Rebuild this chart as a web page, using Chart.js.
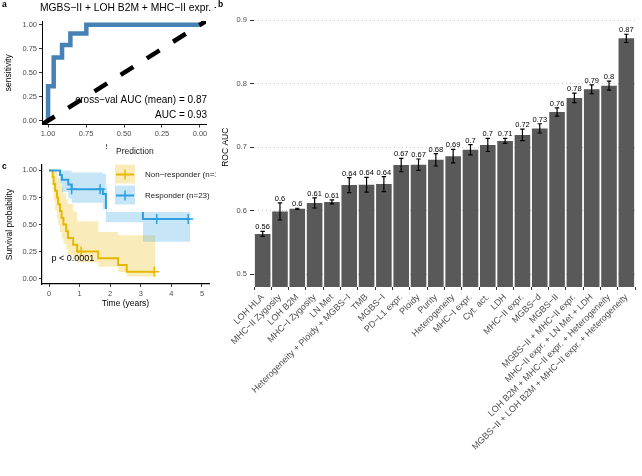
<!DOCTYPE html>
<html>
<head>
<meta charset="utf-8">
<script src="https://cdn.jsdelivr.net/npm/chart.js@4.4.1/dist/chart.umd.min.js"></script>
<style>
  body { margin: 0; background: #fff; overflow: hidden; }
  #wrap { position: relative; width: 642px; height: 476px; }
  canvas { position: absolute; }
  #roc { left: 0; top: 0; }
  #km { left: 0; top: 140px; }
  #auc { left: 216px; top: 0; background: #fff; }
</style>
</head>
<body>
<div id="wrap">
  <canvas id="roc" width="220" height="160"></canvas>
  <canvas id="km" width="220" height="180"></canvas>
  <canvas id="auc" width="426" height="476"></canvas>
</div>
<script>
// ---- panel a: ROC curve of the best combined model
const rocTitle = "MGBS−II + LOH B2M + MHC−II expr. + Heterogeneity";
const rocSpec = [1, 0.963, 0.908, 0.853, 0.748, 0];
const rocSens = [0, 0.36, 0.66, 0.79, 0.91, 1];
const chanceSpec = [1.04, -0.04];
const chanceSens = [-0.04, 1.04];
const rocTicks = [0, 0.25, 0.5, 0.75, 1];
const rocNotes = ["cross−val AUC (mean) = 0.87", "AUC = 0.93"];

// ---- panel b: cross-validated ROC AUC per model
const models = [
  "LOH HLA", "MHC−II Zygosity", "LOH B2M", "MHC−I Zygosity", "LN Met",
  "Heterogeneity + Ploidy + MGBS−I", "TMB", "MGBS−I", "PD−L1 expr.", "Ploidy",
  "Purity", "Heterogeneity", "MHC−I expr.", "Cyt. act.", "LDH", "MHC−II expr.",
  "MGBS−d", "MGBS−II", "MGBS−II + MHC−II expr.", "MHC−II expr. + LN Met + LDH",
  "LOH B2M + MHC−II expr. + Heterogeneity",
  "MGBS−II + LOH B2M + MHC−II expr. + Heterogeneity"
];
const aucMean = [0.5636, 0.599, 0.603, 0.6124, 0.614, 0.6404, 0.641, 0.642, 0.672, 0.6725,
  0.6803, 0.686, 0.696, 0.7037, 0.710, 0.7194, 0.7297, 0.7555, 0.7776, 0.7912, 0.797, 0.8714];
const aucErr = [0.004, 0.0135, 0.001, 0.008, 0.003, 0.0117, 0.0117, 0.0117, 0.0106, 0.009,
  0.0098, 0.0106, 0.008, 0.0104, 0.004, 0.009, 0.0073, 0.0065, 0.0075, 0.007, 0.007, 0.0065];
const aucTicks = [0.5, 0.6, 0.7, 0.8, 0.9];

// ---- panel c: Kaplan-Meier by predicted group
const groups = ["Non−responder (n=16)", "Responder (n=23)"];
const nrTime = [0, 0.12, 0.15, 0.20, 0.26, 0.30, 0.36, 0.41, 0.47, 0.56, 0.62, 0.79, 0.92, 1.61, 2.26, 2.54, 3.47];
const nrSurv = [1, 0.9375, 0.875, 0.8125, 0.75, 0.6875, 0.625, 0.5625, 0.5, 0.4375, 0.375, 0.3125, 0.25, 0.1875, 0.125, 0.0625, 0.0625];
const nrUpper = [1, 1, 1, 1, 0.97, 0.93, 0.88, 0.84, 0.79, 0.73, 0.69, 0.62, 0.53, 0.43, 0.40, 0.40, 0.40];
const nrLower = [1, 0.82, 0.72, 0.63, 0.56, 0.49, 0.43, 0.37, 0.32, 0.27, 0.22, 0.18, 0.15, 0.11, 0.06, 0.02, 0.02];
const nrCensorTime = [1.05, 3.44];
const nrCensorSurv = [0.25, 0.0625];
const rTime = [0, 0.36, 0.42, 0.63, 0.74, 1.76, 1.86, 3.07, 4.62];
const rSurv = [1, 0.957, 0.913, 0.870, 0.826, 0.783, 0.652, 0.55, 0.55];
const rUpper = [1, 1, 1, 1, 0.98, 0.97, 0.85, 0.80, 0.80];
const rLower = [1, 0.88, 0.80, 0.74, 0.70, 0.64, 0.52, 0.34, 0.34];
const rCensorTime = [0.74, 1.67, 3.52, 4.55];
const rCensorSurv = [0.826, 0.826, 0.55, 0.55];
const survTicks = [0, 0.25, 0.5, 0.75, 1];
const timeTicks = [0, 1, 2, 3, 4, 5];
const pText = "p < 0.0001";

const FONT = "'Liberation Sans', Arial, sans-serif";
Chart.defaults.font.family = FONT;
Chart.defaults.color = "#4d4d4d";
Chart.defaults.animation = false;
Chart.defaults.events = [];
Chart.defaults.plugins.legend.display = false;
Chart.defaults.plugins.tooltip.enabled = false;

const yellow = "#E7B800", blue = "#2E9FDF";
const yellowFill = "rgba(231,184,0,0.27)", blueFill = "rgba(46,159,223,0.27)";

function pts(xs, ys) {
  return xs.map((x, i) => ({ x: x, y: ys[i] }));
}
function fixTicks(list) {
  return s => { s.ticks = list.map(v => ({ value: v })); };
}
const tickFont = { size: 7.5 };
const titleFont = { size: 8.5 };

// ---------- panel a
const rocText = {
  id: "rocText",
  beforeDatasetsDraw(chart) {
    const { ctx, chartArea, scales: { y } } = chart;
    ctx.save();
    ctx.fillStyle = "#000";
    ctx.font = "10px " + FONT;
    ctx.textAlign = "right";
    ctx.textBaseline = "middle";
    ctx.fillText(rocNotes[0], chartArea.right + 1, y.getPixelForValue(0.215));
    ctx.fillText(rocNotes[1], chartArea.right + 1, y.getPixelForValue(0.06));
    ctx.restore();
  },
  afterDraw(chart) {
    const { ctx, chartArea } = chart;
    ctx.save();
    ctx.fillStyle = "#000";
    ctx.textBaseline = "middle";
    ctx.textAlign = "left";
    ctx.font = "10.3px " + FONT;
    ctx.fillText(rocTitle, chartArea.left - 2, 8);
    ctx.font = "bold 8.5px " + FONT;
    ctx.fillText("a", 2, 5);
    ctx.restore();
  }
};

new Chart(document.getElementById("roc"), {
  type: "line",
  data: {
    datasets: [
      { data: pts(chanceSpec, chanceSens), borderColor: "#000", borderWidth: 4.5,
        borderDash: [15, 16], pointRadius: 0, borderCapStyle: "butt" },
      { data: pts(rocSpec, rocSens), borderColor: "#4682B4", borderWidth: 4.5,
        stepped: "after", pointRadius: 0 }
    ]
  },
  options: {
    responsive: false,
    devicePixelRatio: 1,
    layout: { padding: { top: 21, right: 14, left: 0, bottom: 0 } },
    scales: {
      x: {
        type: "linear", reverse: true, min: -0.04, max: 1.04,
        afterBuildTicks: fixTicks(rocTicks),
        afterFit: s => { s.height = 35.5; },
        ticks: { font: tickFont, padding: 2, maxRotation: 0, callback: v => v.toFixed(2) },
        grid: { drawOnChartArea: false, tickLength: 3, tickColor: "#333" },
        border: { color: "#000", width: 1 },
        title: { display: true, text: "specificity", color: "#000", font: titleFont, padding: { bottom: 8, top: 0 } }
      },
      y: {
        type: "linear", min: -0.04, max: 1.04,
        afterBuildTicks: fixTicks(rocTicks),
        afterFit: s => { s.width = 42; },
        ticks: { font: tickFont, padding: 2, callback: v => v.toFixed(2) },
        grid: { drawOnChartArea: false, tickLength: 3, tickColor: "#333" },
        border: { color: "#000", width: 1 },
        title: { display: true, text: "sensitivity", color: "#000", font: titleFont, padding: { top: 4, bottom: 0 } }
      }
    }
  },
  plugins: [rocText]
});

// ---------- panel c
const kmDecor = {
  id: "kmDecor",
  afterDatasetsDraw(chart) {
    const { ctx, scales: { x, y } } = chart;
    ctx.save();
    ctx.fillStyle = "#000";
    ctx.font = "9px " + FONT;
    ctx.textAlign = "left";
    ctx.textBaseline = "middle";
    ctx.fillText(pText, x.getPixelForValue(0.08), y.getPixelForValue(0.19));
    ctx.restore();
  },
  afterDraw(chart) {
    const { ctx } = chart;
    ctx.save();
    // legend box (white background hides what lies under it)
    ctx.fillStyle = "#fff";
    ctx.fillRect(107, 0, 113, 72);
    ctx.fillStyle = "#1a1a1a";
    ctx.textAlign = "left";
    ctx.textBaseline = "middle";
    ctx.font = "8.5px " + FONT;
    ctx.fillText("Prediction", 116, 12);
    const lines = [yellow, blue], fills = [yellowFill, blueFill];
    groups.forEach((g, i) => {
      const cy = 34.5 + i * 21;
      ctx.fillStyle = fills[i];
      ctx.fillRect(115, cy - 10, 20, 19);
      ctx.strokeStyle = lines[i];
      ctx.lineWidth = 2;
      ctx.beginPath();
      ctx.moveTo(116, cy); ctx.lineTo(134, cy);
      ctx.stroke();
      ctx.lineWidth = 1.5;
      ctx.beginPath();
      ctx.moveTo(125, cy - 5); ctx.lineTo(125, cy + 5);
      ctx.stroke();
      ctx.fillStyle = "#1a1a1a";
      ctx.font = "8px " + FONT;
      ctx.fillText(g, 145, cy);
    });
    ctx.font = "bold 8.5px " + FONT;
    ctx.fillStyle = "#000";
    ctx.fillText("c", 2, 27);
    ctx.restore();
  }
};

const bandStyle = { pointRadius: 0, borderWidth: 0, borderColor: "transparent", stepped: true };

new Chart(document.getElementById("km"), {
  type: "line",
  data: {
    datasets: [
      { data: pts(rCensorTime, rCensorSurv), showLine: false, pointStyle: "cross",
        pointRadius: 5, pointBorderWidth: 1.5, pointBorderColor: blue },
      { data: pts(nrCensorTime, nrCensorSurv), showLine: false, pointStyle: "cross",
        pointRadius: 5, pointBorderWidth: 1.5, pointBorderColor: yellow },
      { data: pts(rTime, rSurv), borderColor: blue, borderWidth: 2, stepped: true, pointRadius: 0 },
      { data: pts(nrTime, nrSurv), borderColor: yellow, borderWidth: 2, stepped: true, pointRadius: 0 },
      Object.assign({ data: pts(rTime, rUpper), fill: "+1", backgroundColor: blueFill }, bandStyle),
      Object.assign({ data: pts(rTime, rLower), fill: false }, bandStyle),
      Object.assign({ data: pts(nrTime, nrUpper), fill: "+1", backgroundColor: yellowFill }, bandStyle),
      Object.assign({ data: pts(nrTime, nrLower), fill: false }, bandStyle)
    ]
  },
  options: {
    responsive: false,
    devicePixelRatio: 1,
    layout: { padding: { top: 25, right: 11, left: 0, bottom: 0 } },
    plugins: { filler: { drawTime: "beforeDatasetsDraw" } },
    scales: {
      x: {
        type: "linear", min: -0.229, max: 5.229,
        afterBuildTicks: fixTicks(timeTicks),
        afterFit: s => { s.height = 36; },
        ticks: { font: tickFont, padding: 2, maxRotation: 0, callback: v => String(v) },
        grid: { drawOnChartArea: false, tickLength: 3, tickColor: "#333" },
        border: { color: "#000", width: 1.2 },
        title: { display: true, text: "Time (years)", color: "#000", font: titleFont, padding: { bottom: 11, top: 0 } }
      },
      y: {
        type: "linear", min: -0.05, max: 1.05,
        afterBuildTicks: fixTicks(survTicks),
        afterFit: s => { s.width = 42; },
        ticks: { font: tickFont, padding: 2, callback: v => v.toFixed(2) },
        grid: { drawOnChartArea: false, tickLength: 3, tickColor: "#333" },
        border: { color: "#000", width: 1.2 },
        title: { display: true, text: "Survival probability", color: "#000", font: titleFont, padding: { top: 5, bottom: 0 } }
      }
    }
  },
  plugins: [kmDecor]
});

// ---------- panel b
const errorBars = {
  id: "errorBars",
  afterDatasetsDraw(chart) {
    const { ctx, scales: { y } } = chart;
    const meta = chart.getDatasetMeta(0);
    ctx.save();
    ctx.strokeStyle = "#000";
    ctx.fillStyle = "#000";
    ctx.lineWidth = 1.2;
    ctx.font = "7.5px " + FONT;
    ctx.textAlign = "center";
    ctx.textBaseline = "alphabetic";
    meta.data.forEach((bar, i) => {
      const hi = y.getPixelForValue(aucMean[i] + aucErr[i]);
      const lo = y.getPixelForValue(aucMean[i] - aucErr[i]);
      ctx.beginPath();
      ctx.moveTo(bar.x, hi); ctx.lineTo(bar.x, lo);
      ctx.moveTo(bar.x - 2.2, hi); ctx.lineTo(bar.x + 2.2, hi);
      ctx.moveTo(bar.x - 2.2, lo); ctx.lineTo(bar.x + 2.2, lo);
      ctx.stroke();
      ctx.fillText(String(+aucMean[i].toFixed(2)), bar.x, hi - 2);
    });
    ctx.restore();
  },
  afterDraw(chart) {
    const { ctx } = chart;
    ctx.save();
    ctx.fillStyle = "#000";
    ctx.font = "bold 8.5px " + FONT;
    ctx.textBaseline = "middle";
    ctx.fillText("b", 2, 5);
    ctx.restore();
  }
};

new Chart(document.getElementById("auc"), {
  type: "bar",
  data: {
    labels: models,
    datasets: [{
      data: aucMean,
      backgroundColor: "#595959",
      barPercentage: 0.9,
      categoryPercentage: 1,
      base: 0.48
    }]
  },
  options: {
    responsive: false,
    devicePixelRatio: 1,
    layout: { padding: { top: 5, right: 7, left: 0, bottom: 0 } },
    scales: {
      x: {
        afterFit: s => { s.height = 189; },
        ticks: { autoSkip: false, minRotation: 45, maxRotation: 45, font: { size: 9 }, padding: 2 },
        grid: { drawOnChartArea: false, tickLength: 3, tickColor: "#333" },
        border: { display: false }
      },
      y: {
        min: 0.48, max: 0.92,
        afterBuildTicks: fixTicks(aucTicks),
        afterFit: s => { s.width = 38; },
        ticks: { font: tickFont, padding: 3, callback: v => v.toFixed(1) },
        grid: { color: "#c4c4c4", lineWidth: 1, tickLength: 4, tickColor: "#333" },
        border: { display: false, dash: [1, 3] },
        title: { display: true, text: "ROC AUC", color: "#000", font: titleFont, padding: { top: 5, bottom: 0 } }
      }
    }
  },
  plugins: [errorBars]
});
</script>
</body>
</html>
